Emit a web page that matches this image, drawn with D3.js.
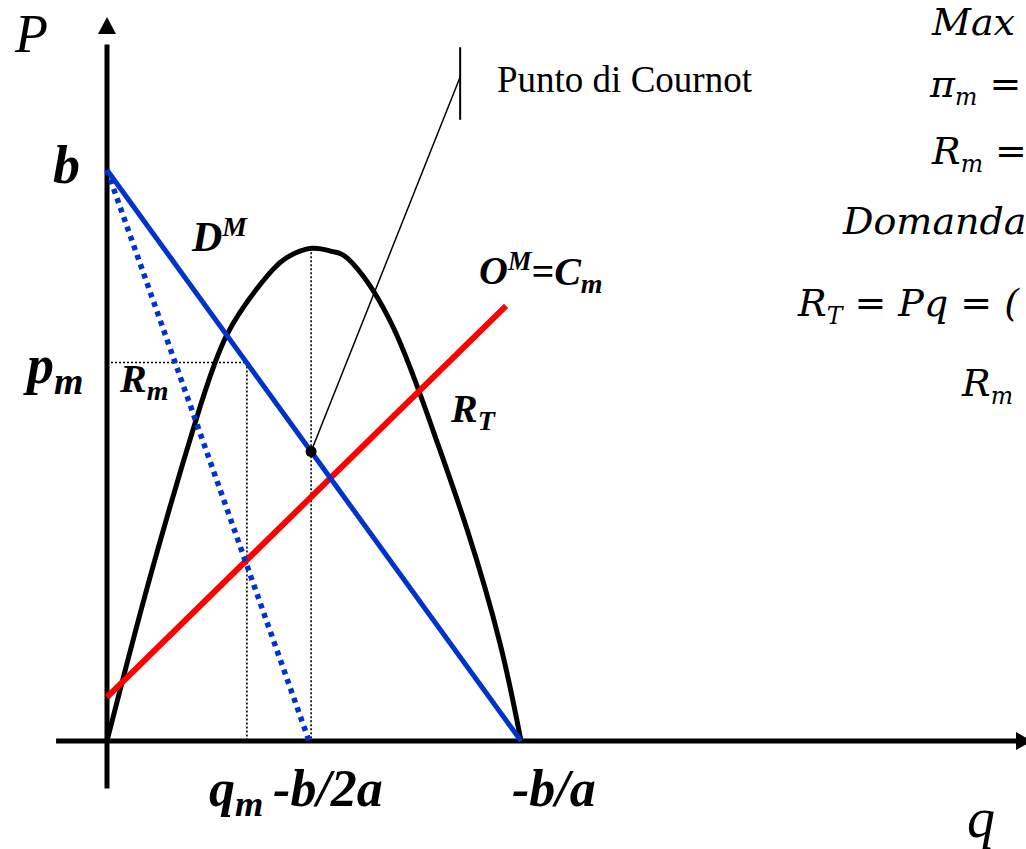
<!DOCTYPE html>
<html>
<head>
<meta charset="utf-8">
<script src="https://cdn.jsdelivr.net/npm/d3@7"></script>
<style>
  html, body { margin: 0; padding: 0; background: #fff; overflow: hidden; }
  svg { display: block; }
</style>
</head>
<body>
<div id="chart"></div>
<script>
// Schematic monopoly diagram: demand, marginal revenue, total revenue, marginal cost
// Values are in abstract units (b = 10, -b/a = 10)

const demandLine = [{ q: 0, p: 10 }, { q: 10, p: 0 }];          // D^M
const marginalRevenue = [{ q: 0, p: 10 }, { q: 4.88, p: 0 }];   // R_m (dotted)
const costLine = [{ q: 0, p: 0.77 }, { q: 9.64, p: 7.62 }];     // O^M = C_m
const totalRevenue = [                                           // R_T
    { q: 0, p: 0 }, { q: 1.04, p: 2.87 }, { q: 2.17, p: 5.67 },
    { q: 2.9, p: 7.12 }, { q: 3.62, p: 7.92 }, { q: 4.01, p: 8.26 }, { q: 4.35, p: 8.47 },
    { q: 4.95, p: 8.63 }, { q: 5.46, p: 8.57 }, { q: 5.94, p: 8.36 },
    { q: 6.91, p: 7.25 }, { q: 7.87, p: 5.45 },
    { q: 8.7, p: 3.7 }, { q: 9.49, p: 1.72 }, { q: 10, p: 0 }
];
const monopoly = { q: 3.38, p: 6.63 };       // q_m, p_m
const halfQ = 4.93;                          // -b/2a
const cournotPoint = { q: 4.93, p: 5.07 };
const cournotLabelAnchor = { q: 8.53, p: 11.63 };

const W = 1026, H = 849;
const x = d3.scaleLinear().domain([0, 10]).range([107, 521]);
const y = d3.scaleLinear().domain([0, 10]).range([741, 170]);

const svg = d3.select('#chart').append('svg')
    .attr('width', W).attr('height', H);

const serif = '"Liberation Serif", "Times New Roman", serif';
const mathFont = '"DejaVu Serif", serif';

const line = d3.line().x(d => x(d.q)).y(d => y(d.p));

// --- axes with arrow heads ---
svg.append('line')
    .attr('x1', x(-1.23)).attr('x2', x(22.3))
    .attr('y1', y(0)).attr('y2', y(0))
    .attr('stroke', '#000').attr('stroke-width', 5);
svg.append('line')
    .attr('x1', x(0)).attr('x2', x(0))
    .attr('y1', y(-0.83)).attr('y2', y(12.2))
    .attr('stroke', '#000').attr('stroke-width', 5);

svg.append('path')
    .attr('d', `M${x(0)},${y(12.68)} L${x(0) - 9},${y(12.38)} L${x(0) + 9},${y(12.38)} Z`)
    .attr('fill', '#000');
svg.append('path')
    .attr('d', `M${W + 6},${y(0)} L${W - 10},${y(0) - 9} L${W - 10},${y(0) + 9} Z`)
    .attr('fill', '#000');

// --- guide lines (thin dotted) ---
const guide = (x1, y1, x2, y2) => svg.append('line')
    .attr('x1', x1).attr('y1', y1).attr('x2', x2).attr('y2', y2)
    .attr('stroke', '#000').attr('stroke-width', 1.6)
    .attr('stroke-dasharray', '2,2');

guide(x(0), y(monopoly.p), x(monopoly.q), y(monopoly.p));
guide(x(monopoly.q), y(monopoly.p), x(monopoly.q), y(0));
guide(x(halfQ), y(8.63), x(halfQ), y(0));

// --- curves ---
svg.append('path').datum(totalRevenue)
    .attr('d', d3.line().x(d => x(d.q)).y(d => y(d.p)).curve(d3.curveNatural))
    .attr('fill', 'none').attr('stroke', '#000').attr('stroke-width', 5);

svg.append('path').datum(costLine)
    .attr('d', line)
    .attr('fill', 'none').attr('stroke', '#ff0000').attr('stroke-width', 6);

svg.append('path').datum(marginalRevenue)
    .attr('d', line)
    .attr('fill', 'none').attr('stroke', '#0033cc').attr('stroke-width', 5.5)
    .attr('stroke-dasharray', '5,5');

svg.append('path').datum(demandLine)
    .attr('d', line)
    .attr('fill', 'none').attr('stroke', '#0033cc').attr('stroke-width', 5);

// --- Cournot point and leader ---
svg.append('line')
    .attr('x1', x(cournotPoint.q)).attr('y1', y(cournotPoint.p))
    .attr('x2', x(cournotLabelAnchor.q)).attr('y2', y(cournotLabelAnchor.p))
    .attr('stroke', '#000').attr('stroke-width', 1.5);
svg.append('line')
    .attr('x1', x(cournotLabelAnchor.q)).attr('x2', x(cournotLabelAnchor.q))
    .attr('y1', y(12.15)).attr('y2', y(10.88))
    .attr('stroke', '#000').attr('stroke-width', 2);
svg.append('circle')
    .attr('cx', x(cournotPoint.q)).attr('cy', y(cournotPoint.p))
    .attr('r', 5.5).attr('fill', '#000');

// --- labels ---
function label(px, py, parts, size, opts = {}) {
    const t = svg.append('text')
        .attr('x', px).attr('y', py)
        .attr('font-family', opts.family || serif)
        .attr('font-size', size)
        .attr('font-style', opts.italic === false ? 'normal' : 'italic')
        .attr('font-weight', opts.bold ? 'bold' : 'normal')
        .attr('fill', '#000');
    parts.forEach(p => {
        const s = t.append('tspan').text(p.t);
        if (p.sub) s.attr('font-size', size * (opts.subScale || 0.62)).attr('dy', size * 0.2);
        if (p.sup) s.attr('font-size', size * 0.66).attr('dy', -size * 0.36);
        if (p.back) s.attr('dy', p.back);
    });
    return t;
}

label(15, 52, [{ t: 'P' }], 54);
label(x(10) + 446, 837, [{ t: 'q' }], 56);
label(x(0) - 54, y(10) + 13, [{ t: 'b' }], 54, { bold: true });
label(x(0) - 80, y(monopoly.p) + 21, [{ t: 'p' }, { t: 'm', sub: true }], 54, { bold: true, subScale: 0.7 });
label(x(0) + 13, y(monopoly.p) + 30, [{ t: 'R' }, { t: 'm', sub: true }], 40, { bold: true, subScale: 0.7 });
label(192, 251, [{ t: 'D' }, { t: 'M', sup: true }], 42, { bold: true });
label(479, 284, [{ t: 'O' }, { t: 'M', sup: true }, { t: '=C', back: 15 }, { t: 'm', sub: true }], 40, { bold: true, subScale: 0.7 });
label(451, 422, [{ t: 'R' }, { t: 'T', sub: true }], 40, { bold: true, subScale: 0.7 });

label(x(monopoly.q) - 38, 806, [{ t: 'q' }, { t: 'm', sub: true }], 52, { bold: true, subScale: 0.7 });
label(x(halfQ) - 38, 806, [{ t: '-b/2a' }], 52, { bold: true });
label(x(10) - 9, 806, [{ t: '-b/a' }], 52, { bold: true });

label(497, 92, [{ t: 'Punto di Cournot' }], 37, { italic: false });

// formulas on the right edge (only the part that fits in the page)
label(932, 35, [{ t: 'Max' }], 38, { family: mathFont });
label(930, 97, [{ t: '\u03c0' }, { t: 'm', sub: true }, { t: ' =', back: -8 }], 38, { family: mathFont });
label(932, 164, [{ t: 'R' }, { t: 'm', sub: true }, { t: ' =', back: -8 }], 38, { family: mathFont });
label(843, 234, [{ t: 'Domanda' }], 38, { family: mathFont });
label(798, 316, [{ t: 'R' }, { t: 'T', sub: true }, { t: ' = Pq = (', back: -8 }], 38, { family: mathFont });
label(962, 396, [{ t: 'R' }, { t: 'm', sub: true }], 38, { family: mathFont });
</script>
</body>
</html>
